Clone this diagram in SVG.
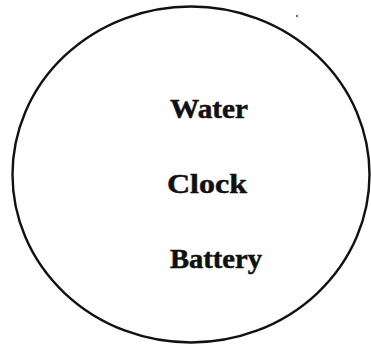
<svg xmlns="http://www.w3.org/2000/svg" width="371" height="345" viewBox="0 0 371 345">
<style>
.lbl{font-family:"Liberation Serif","Times New Roman",serif;font-weight:bold;font-size:28px;fill:#111;stroke:#111;stroke-width:0.5;}
</style>
<rect width="371" height="345" fill="#fff"/>
<g id="circle">
<ellipse cx="191" cy="174.5" rx="178.5" ry="168" fill="none" stroke="#111" stroke-width="2.4"/>
</g>
<g id="water"><text class="lbl" x="170" y="118" textLength="78" lengthAdjust="spacingAndGlyphs">Water</text></g>
<g id="clock"><text class="lbl" x="167" y="193" textLength="80" lengthAdjust="spacingAndGlyphs">Clock</text></g>
<g id="battery"><text class="lbl" x="170" y="268" textLength="92" lengthAdjust="spacingAndGlyphs">Battery</text></g>
<circle cx="297" cy="16" r="1" fill="#333"/>
</svg>
